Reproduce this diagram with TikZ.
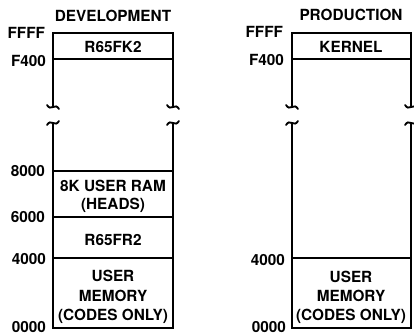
\documentclass[tikz,border=0pt]{standalone}
\usepackage{fontspec}
\setmainfont{TeX Gyre Heros}
\usetikzlibrary{calc}
\begin{document}
\begin{tikzpicture}[x=0.75pt,y=-0.75pt,line width=1.5pt,
  lbl/.style={font=\bfseries\fontsize{11.5}{13}\selectfont,inner sep=0pt},
  addr/.style={lbl,anchor=east},
  wall/.style={line width=1.5pt,line join=miter},
  brk/.style={line width=1.4pt,line cap=round}]
\useasboundingbox (0,0) rectangle (414,335);
\newcommand\brkup[1]{\draw[brk] ($(#1)+(-6,-2)$) .. controls ($(#1)+(-2,5)$) and ($(#1)+(2,-5)$) .. ($(#1)+(6,2)$);}
\newcommand\brkdn[1]{\draw[brk] ($(#1)+(-6,2)$) .. controls ($(#1)+(-2,-5)$) and ($(#1)+(2,5)$) .. ($(#1)+(6,-2)$);}
% ---------- development ----------
\coordinate (dTL) at (53,33);  \coordinate (dTR) at (173,33);
\coordinate (dUL) at (53,107); \coordinate (dUR) at (173,107);
\coordinate (dLL) at (53,123); \coordinate (dLR) at (173,123);
\coordinate (dBL) at (53,328); \coordinate (dBR) at (173,328);
\draw[wall] (dUL) -- (dTL) -- (dTR) -- (dUR);
\draw[wall] (53,59) -- (173,59);
\brkup{dUL} \brkup{dUR} \brkdn{dLL} \brkdn{dLR}
\draw[wall] (dLL) -- (dBL) -- (dBR) -- (dLR);
\draw[wall] (53,171) -- (173,171);
\draw[wall] (53,217) -- (173,217);
\draw[wall] (53,258) -- (173,258);
\node[lbl] (dev) at (113,16) {DEVELOPMENT};
\node[lbl] (rfk) at (113,47) {R65FK2};
\node[lbl] (ram1) at (113,186) {8K USER RAM};
\node[lbl] (ram2) at (113,205) {(HEADS)};
\node[lbl] (rfr) at (113,240) {R65FR2};
\node[lbl] (um1) at (113,276) {USER};
\node[lbl] (um2) at (113,296) {MEMORY};
\node[lbl] (um3) at (113,316) {(CODES ONLY)};
\node[addr] (dFFFF) at (46,33) {FFFF};
\node[addr] (dF400) at (47,61) {F400};
\node[addr] (d8000) at (46,171) {8000};
\node[addr] (d6000) at (46,217) {6000};
\node[addr] (d4000) at (47,259) {4000};
\node[addr] (d0000) at (47,327) {0000};
% ---------- production ----------
\coordinate (pTL) at (292,33);  \coordinate (pTR) at (411,33);
\coordinate (pUL) at (292,107); \coordinate (pUR) at (411,107);
\coordinate (pLL) at (292,123); \coordinate (pLR) at (411,123);
\coordinate (pBL) at (292,328); \coordinate (pBR) at (411,328);
\draw[wall] (pUL) -- (pTL) -- (pTR) -- (pUR);
\draw[wall] (292,59) -- (411,59);
\brkup{pUL} \brkup{pUR} \brkdn{pLL} \brkdn{pLR}
\draw[wall] (pLL) -- (pBL) -- (pBR) -- (pLR);
\draw[wall] (292,258) -- (411,258);
\node[lbl] (prod) at (351,15) {PRODUCTION};
\node[lbl] (kern) at (351,47) {KERNEL};
\node[lbl] (pm1) at (351,277) {USER};
\node[lbl] (pm2) at (351,296) {MEMORY};
\node[lbl] (pm3) at (351,316) {(CODES ONLY)};
\node[addr] (pFFFF) at (284,32) {FFFF};
\node[addr] (pF400) at (285,60) {F400};
\node[addr] (p4000) at (286,260) {4000};
\node[addr] (p0000) at (287,327) {0000};
\end{tikzpicture}
\end{document}
